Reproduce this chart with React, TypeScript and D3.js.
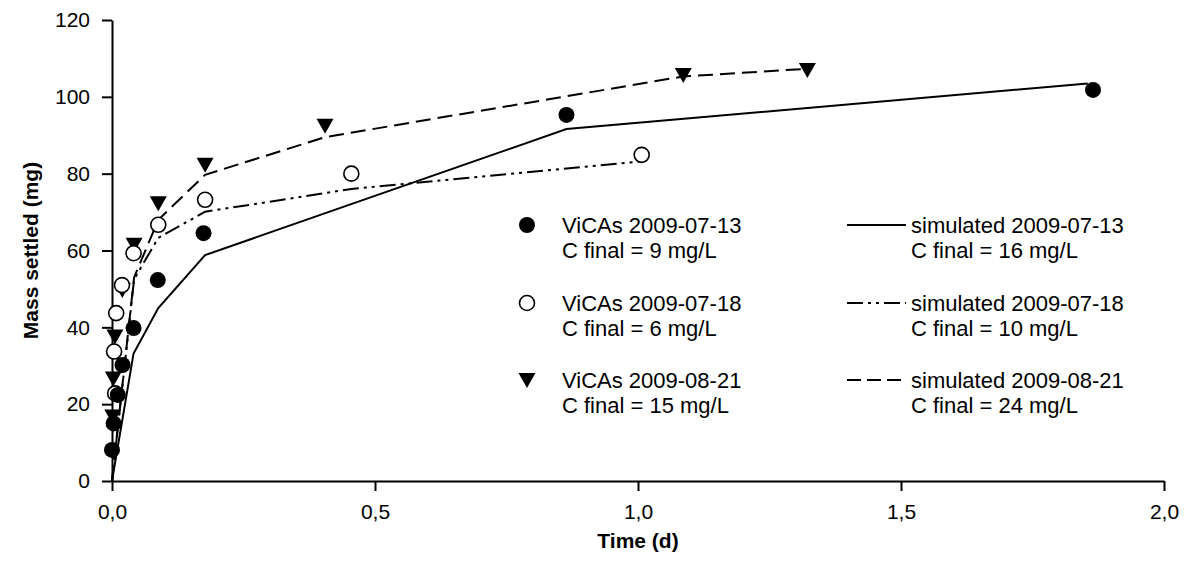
import * as d3 from 'd3'
import { useEffect, useRef } from 'react'

// ViCAs measurements (time in days, mass in mg)
const vicas0713Time = [0, 0.003, 0.011, 0.02, 0.041, 0.087, 0.174, 0.864, 1.865]
const vicas0713Mass = [8.1, 15, 22.4, 30.2, 39.8, 52.3, 64.5, 95.3, 101.8]

const vicas0718Time = [0.006, 0.004, 0.008, 0.019, 0.041, 0.088, 0.177, 0.455, 1.007]
const vicas0718Mass = [22.8, 33.7, 43.7, 51, 59.3, 66.7, 73.2, 80, 84.9]

const vicas0821Time = [0.0015, 0.0025, 0.0055, 0.0196, 0.042, 0.088, 0.177, 0.405, 1.086, 1.322]
const vicas0821Mass = [16.8, 26.7, 37.6, 49.7, 61.5, 72.3, 82.3, 92.5, 105.7, 107]

// simulated curves
const sim0713Time = [0, 0.041, 0.088, 0.177, 0.864, 1.855]
const sim0713Mass = [0, 33.2, 45, 58.8, 91.6, 103.5]

const sim0718Time = [0, 0.042, 0.088, 0.177, 0.455, 1.007]
const sim0718Mass = [0, 52.5, 63.3, 70.1, 76, 83.2]

const sim0821Time = [0, 0.042, 0.088, 0.177, 0.405, 1.086, 1.322]
const sim0821Mass = [0, 53, 68, 79.7, 89.5, 105.3, 107.3]

const xTicks = [0, 0.5, 1, 1.5, 2]
const yTicks = [0, 20, 40, 60, 80, 100, 120]

const vicasLabels = ['ViCAs 2009-07-13', 'ViCAs 2009-07-18', 'ViCAs 2009-08-21']
const vicasFinal = ['C final = 9 mg/L', 'C final = 6 mg/L', 'C final = 15 mg/L']
const simLabels = ['simulated 2009-07-13', 'simulated 2009-07-18', 'simulated 2009-08-21']
const simFinal = ['C final = 16 mg/L', 'C final = 10 mg/L', 'C final = 24 mg/L']

const W = 1190
const H = 562
const FONT = '"Liberation Sans", Arial, sans-serif'

const zip = (t: number[], m: number[]) => t.map((d, i) => [d, m[i]] as [number, number])

export default function App() {
  const ref = useRef<SVGSVGElement>(null)

  useEffect(() => {
    const svg = d3.select(ref.current)
    svg.selectAll('*').remove()

    const x = d3.scaleLinear().domain([0, 2]).range([112, 1164])
    const y = d3.scaleLinear().domain([0, 120]).range([481, 20])

    const comma = d3.formatLocale({ decimal: ',', thousands: '.', grouping: [3], currency: ['', ''] }).format('.1f')

    // axes
    const xAxis = svg.append('g')
      .attr('transform', `translate(0,${y(0)})`)
      .call(d3.axisBottom(x).tickValues(xTicks).tickFormat(d => comma(d as number)).tickSize(10).tickPadding(13).tickSizeOuter(0))
    const yAxis = svg.append('g')
      .attr('transform', `translate(${x(0)},0)`)
      .call(d3.axisLeft(y).tickValues(yTicks).tickSize(10).tickPadding(12).tickSizeOuter(0))

    for (const a of [xAxis, yAxis]) {
      a.selectAll('.domain').attr('stroke', '#000').attr('stroke-width', 2)
      a.selectAll('.tick line').attr('stroke', '#000').attr('stroke-width', 2)
      a.selectAll('text').attr('fill', '#000').style('font-family', FONT).style('font-size', '21px')
    }

    // axis titles
    svg.append('text')
      .attr('x', (x(0) + x(2)) / 2)
      .attr('y', 548)
      .attr('text-anchor', 'middle')
      .style('font-family', FONT).style('font-size', '21px').style('font-weight', 'bold')
      .text('Time (d)')
    svg.append('text')
      .attr('transform', `translate(31,${(y(0) + y(120)) / 2}) rotate(-90)`)
      .attr('text-anchor', 'middle')
      .attr('dy', '0.35em')
      .style('font-family', FONT).style('font-size', '21px').style('font-weight', 'bold')
      .text('Mass settled (mg)')

    const line = d3.line<[number, number]>().x(d => x(d[0])).y(d => y(d[1]))
    const dashes = [null, '16,5,3,5,3,5', '15,7']

    const sims = [zip(sim0713Time, sim0713Mass), zip(sim0718Time, sim0718Mass), zip(sim0821Time, sim0821Mass)]
    sims.forEach((s, i) => {
      svg.append('path')
        .datum(s)
        .attr('d', line)
        .attr('fill', 'none')
        .attr('stroke', '#000')
        .attr('stroke-width', 2)
        .attr('stroke-dasharray', dashes[i])
    })

    const r = 8
    const tri = (cx: number, cy: number) => `M${cx - 8.5},${cy - 7}L${cx + 8.5},${cy - 7}L${cx},${cy + 8}Z`

    const drawCircle = (g: any, cx: number, cy: number, filled: boolean) =>
      g.append('circle')
        .attr('cx', cx).attr('cy', cy).attr('r', filled ? r : r - 0.5)
        .attr('fill', filled ? '#000' : '#fff')
        .attr('stroke', '#000')
        .attr('stroke-width', filled ? 0 : 1.6)

    // markers: triangles under, then open circles, then filled
    const pts = svg.append('g')
    zip(vicas0821Time, vicas0821Mass).forEach(d => {
      pts.append('path').attr('d', tri(x(d[0]), y(d[1]))).attr('fill', '#000')
    })
    zip(vicas0718Time, vicas0718Mass).forEach(d => drawCircle(pts, x(d[0]), y(d[1]), false))
    zip(vicas0713Time, vicas0713Mass).forEach(d => drawCircle(pts, x(d[0]), y(d[1]), true))

    // legend
    const rowsY = [225, 303, 380]
    const leg = svg.append('g').style('font-family', FONT).style('font-size', '22px')
    rowsY.forEach((ry, i) => {
      if (i === 0) drawCircle(leg, 527, ry, true)
      if (i === 1) drawCircle(leg, 527, ry, false)
      if (i === 2) leg.append('path').attr('d', tri(527, ry)).attr('fill', '#000')
      leg.append('text').attr('x', 562).attr('y', ry + 8).text(vicasLabels[i])
      leg.append('text').attr('x', 562).attr('y', ry + 33).text(vicasFinal[i])

      leg.append('line')
        .attr('x1', 847).attr('x2', 906).attr('y1', ry).attr('y2', ry)
        .attr('stroke', '#000').attr('stroke-width', 2)
        .attr('stroke-dasharray', i === 1 ? '16,5,3,5,3,5' : i === 2 ? '14,6' : null)
      leg.append('text').attr('x', 911).attr('y', ry + 8).text(simLabels[i])
      leg.append('text').attr('x', 911).attr('y', ry + 33).text(simFinal[i])
    })
  }, [])

  return (
    <div style={{ position: 'absolute', left: 0, top: 0, background: '#fff' }}>
      <svg ref={ref} width={W} height={H} />
    </div>
  )
}
